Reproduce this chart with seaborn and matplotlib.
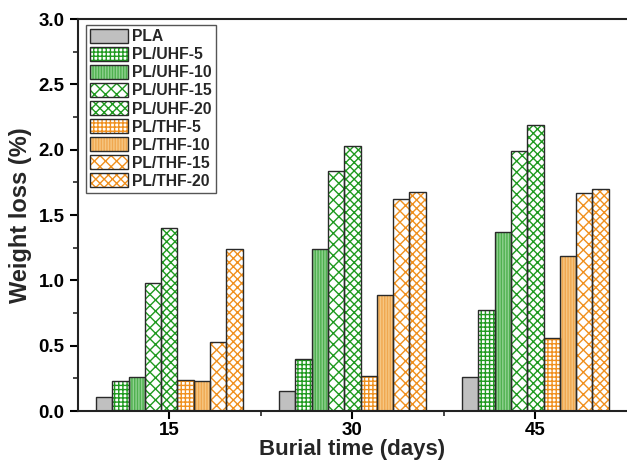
import matplotlib
matplotlib.use("Agg")
import matplotlib.pyplot as plt
from matplotlib.patches import Patch, Rectangle
from matplotlib.legend_handler import HandlerTuple
from matplotlib.ticker import MultipleLocator, FixedLocator
import seaborn as sns
import pandas as pd

days = ["15", "30", "45"]
series = ["PLA", "PL/UHF-5", "PL/UHF-10", "PL/UHF-15", "PL/UHF-20",
          "PL/THF-5", "PL/THF-10", "PL/THF-15", "PL/THF-20"]
pla = [0.11, 0.15, 0.26]
uhf5 = [0.23, 0.40, 0.77]
uhf10 = [0.26, 1.24, 1.37]
uhf15 = [0.98, 1.84, 1.99]
uhf20 = [1.40, 2.03, 2.19]
thf5 = [0.24, 0.27, 0.56]
thf10 = [0.23, 0.89, 1.19]
thf15 = [0.53, 1.62, 1.67]
thf20 = [1.24, 1.68, 1.70]
values = [pla, uhf5, uhf10, uhf15, uhf20, thf5, thf10, thf15, thf20]

green = "#1f9a1f"
orange = "#f0901e"
styles = [
    dict(face="#c0c0c0", hatch="", hc="#555555"),
    dict(face="white", hatch="++++", hc=green),
    dict(face="#8fd18f", hatch="||||||", hc="#4fb04f"),
    dict(face="white", hatch="xxx", hc=green),
    dict(face="white", hatch="xxxx", hc=green),
    dict(face="white", hatch="++++", hc=orange),
    dict(face="#f6c682", hatch="||||||", hc="#f0a850"),
    dict(face="white", hatch="xxx", hc=orange),
    dict(face="white", hatch="xxxx", hc=orange),
]

rows = []
for name, vals in zip(series, values):
    for d, v in zip(days, vals):
        rows.append({"day": d, "series": name, "loss": v})
df = pd.DataFrame(rows)

sns.set_style("ticks")
plt.rcParams["font.family"] = ["Liberation Sans", "DejaVu Sans"]
plt.rcParams["font.weight"] = "bold"
plt.rcParams["hatch.linewidth"] = 1.0

fig = plt.figure(figsize=(6.27, 4.65), dpi=100)
ax = fig.add_axes([0.124, 0.116, 0.876, 0.843])

sns.barplot(data=df, x="day", y="loss", hue="series", order=days,
            hue_order=series, width=0.8, ax=ax, legend=False,
            saturation=1, errorbar=None)

for cont, st in zip(ax.containers, styles):
    for p in cont.patches:
        p.set_facecolor(st["face"])
        p.set_hatch(st["hatch"])
        p.set_edgecolor(st["hc"])
        p.set_linewidth(0)
        ax.add_patch(Rectangle((p.get_x(), p.get_y()), p.get_width(), p.get_height(),
                               fill=False, edgecolor="#2a2a2a", linewidth=1.0, zorder=p.get_zorder() + 0.1))

ax.set_xlim(-0.5, 2.5)
ax.set_ylim(0, 3.0)
ax.yaxis.set_major_locator(MultipleLocator(0.5))
ax.yaxis.set_minor_locator(MultipleLocator(0.25))
ax.xaxis.set_minor_locator(FixedLocator([0.5, 1.5]))
ax.tick_params(axis="both", which="major", direction="out", length=6, width=1.5,
               labelsize=13.5, colors="black")
ax.tick_params(axis="x", which="major", pad=2)
ax.tick_params(axis="both", which="minor", direction="out", length=3.5, width=1.2)
for lab in ax.get_xticklabels() + ax.get_yticklabels():
    lab.set_fontweight("bold")

ax.set_xlabel("Burial time (days)", fontsize=16, fontweight="bold", labelpad=0)
ax.set_ylabel("Weight loss (%)", fontsize=17, fontweight="bold", labelpad=5)

for s in ["left", "bottom", "top"]:
    ax.spines[s].set_linewidth(1.5)
    ax.spines[s].set_color("#222222")
ax.spines["right"].set_visible(False)

handles = []
for st in styles:
    h1 = Patch(facecolor=st["face"], hatch=st["hatch"], edgecolor=st["hc"], linewidth=0)
    h2 = Patch(facecolor="none", edgecolor="#2a2a2a", linewidth=1.0)
    handles.append((h1, h2))
leg = ax.legend(handles, series, handler_map={tuple: HandlerTuple(ndivide=1, pad=0)},
                loc="upper left", bbox_to_anchor=(0.015, 0.985), fancybox=False,
                frameon=True, edgecolor="#555555", framealpha=1,
                prop={"weight": "bold", "size": 11.3},
                handlelength=2.4, handleheight=1.0, labelspacing=0.17,
                handletextpad=0.3, borderpad=0.25, borderaxespad=0)
leg.get_frame().set_linewidth(1.0)

fig.savefig("out.png", dpi=100)
